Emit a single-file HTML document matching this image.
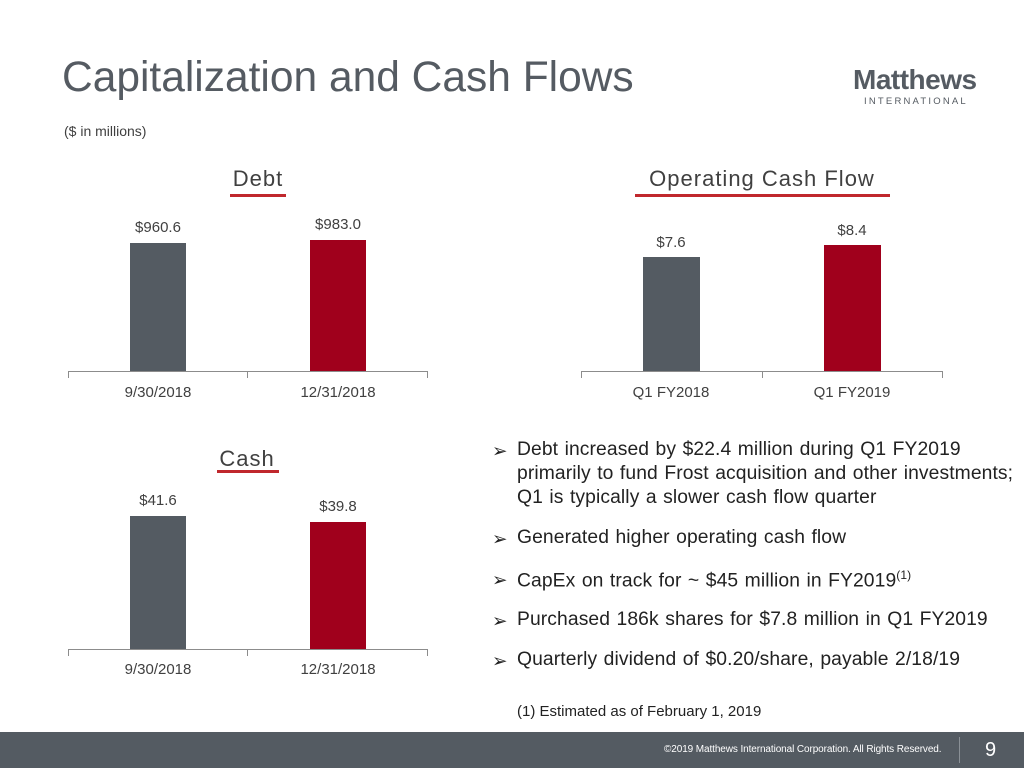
<!DOCTYPE html>
<html><head><style>
body{margin:0;width:1024px;height:768px;position:relative;background:#fff;font-family:"Liberation Sans",sans-serif;overflow:hidden;color:#404040}
.a{position:absolute;white-space:nowrap}
.g{background:#545b62}.r{background:#a0001c}
.ax{position:absolute;height:1px;background:#8c8c8c}
.tk{position:absolute;width:1px;height:7px;background:#8c8c8c}
.lbl{font-size:15px;color:#404040;transform:translateX(-50%)}
.val{font-size:15px;color:#404040;transform:translateX(-50%)}
.ttl{font-size:22px;color:#404040;letter-spacing:1px;transform:translateX(-50%)}
.ul{position:absolute;height:3px;background:#c0282d}
.b{font-size:19.3px;color:#222;letter-spacing:0.1px;word-spacing:1px}
</style></head><body>
<div class="a" style="left:62px;top:54px;font-size:42.5px;color:#555b62">Capitalization and Cash Flows</div>
<div class="a" style="left:64px;top:123px;font-size:14px;color:#404040">($ in millions)</div>
<div class="a" style="left:853px;top:64px;font-size:28px;font-weight:bold;color:#555b62;letter-spacing:-0.5px">Matthews</div>
<div class="a" style="left:864px;top:96px;font-size:9.5px;color:#555b62;letter-spacing:2.2px">INTERNATIONAL</div>

<div class="a ttl" style="left:258px;top:166px">Debt</div>
<div class="ul" style="left:230px;top:194px;width:56px"></div>
<div class="a val" style="left:158px;top:219px">$960.6</div>
<div class="a val" style="left:338px;top:216px">$983.0</div>
<div class="a g" style="left:130px;top:243px;width:56px;height:128px"></div>
<div class="a r" style="left:310px;top:240px;width:56px;height:131px"></div>
<div class="ax" style="left:68px;top:371px;width:360px"></div>
<div class="tk" style="left:68px;top:371px"></div><div class="tk" style="left:247px;top:371px"></div><div class="tk" style="left:427px;top:371px"></div>
<div class="a lbl" style="left:158px;top:384px">9/30/2018</div>
<div class="a lbl" style="left:338px;top:384px">12/31/2018</div>

<div class="a ttl" style="left:762px;top:166px">Operating Cash Flow</div>
<div class="ul" style="left:635px;top:194px;width:255px"></div>
<div class="a val" style="left:671px;top:234px">$7.6</div>
<div class="a val" style="left:852px;top:222px">$8.4</div>
<div class="a g" style="left:643px;top:257px;width:57px;height:114px"></div>
<div class="a r" style="left:824px;top:245px;width:57px;height:126px"></div>
<div class="ax" style="left:581px;top:371px;width:362px"></div>
<div class="tk" style="left:581px;top:371px"></div><div class="tk" style="left:762px;top:371px"></div><div class="tk" style="left:942px;top:371px"></div>
<div class="a lbl" style="left:671px;top:384px">Q1 FY2018</div>
<div class="a lbl" style="left:852px;top:384px">Q1 FY2019</div>

<div class="a ttl" style="left:247px;top:446px">Cash</div>
<div class="ul" style="left:217px;top:470px;width:62px"></div>
<div class="a val" style="left:158px;top:492px">$41.6</div>
<div class="a val" style="left:338px;top:498px">$39.8</div>
<div class="a g" style="left:130px;top:516px;width:56px;height:133px"></div>
<div class="a r" style="left:310px;top:522px;width:56px;height:127px"></div>
<div class="ax" style="left:68px;top:649px;width:360px"></div>
<div class="tk" style="left:68px;top:649px"></div><div class="tk" style="left:247px;top:649px"></div><div class="tk" style="left:427px;top:649px"></div>
<div class="a lbl" style="left:158px;top:661px">9/30/2018</div>
<div class="a lbl" style="left:338px;top:661px">12/31/2018</div>

<div class="a" style="left:492px;top:439px;font-size:18.6px;color:#222;line-height:24px">➢</div>
<div class="a b" style="left:517px;top:438px;line-height:24px">Debt increased by $22.4 million during Q1 FY2019<br>primarily to fund Frost acquisition and other investments;<br>Q1 is typically a slower cash flow quarter</div>
<div class="a" style="left:492px;top:528px;font-size:18.6px;color:#222">➢</div>
<div class="a b" style="left:517px;top:527px">Generated higher operating cash flow</div>
<div class="a" style="left:492px;top:569px;font-size:18.6px;color:#222">➢</div>
<div class="a b" style="left:517px;top:568px">CapEx on track for ~ $45 million in FY2019<sup style="font-size:12px">(1)</sup></div>
<div class="a" style="left:492px;top:610px;font-size:18.6px;color:#222">➢</div>
<div class="a b" style="left:517px;top:609px">Purchased 186k shares for $7.8 million in Q1 FY2019</div>
<div class="a" style="left:492px;top:650px;font-size:18.6px;color:#222">➢</div>
<div class="a b" style="left:517px;top:649px">Quarterly dividend of $0.20/share, payable 2/18/19</div>
<div class="a" style="left:517px;top:703px;font-size:15px;color:#222">(1) Estimated as of February 1, 2019</div>

<div class="a" style="left:0;top:732px;width:1024px;height:36px;background:#545b62"></div>
<div class="a" style="left:664px;top:744px;font-size:10px;color:#fff;letter-spacing:-0.1px">©2019 Matthews International Corporation. All Rights Reserved.</div>
<div class="a" style="left:959px;top:737px;width:1px;height:26px;background:#8a9096"></div>
<div class="a" style="left:985px;top:739px;font-size:20px;color:#fff">9</div>
</body></html>
